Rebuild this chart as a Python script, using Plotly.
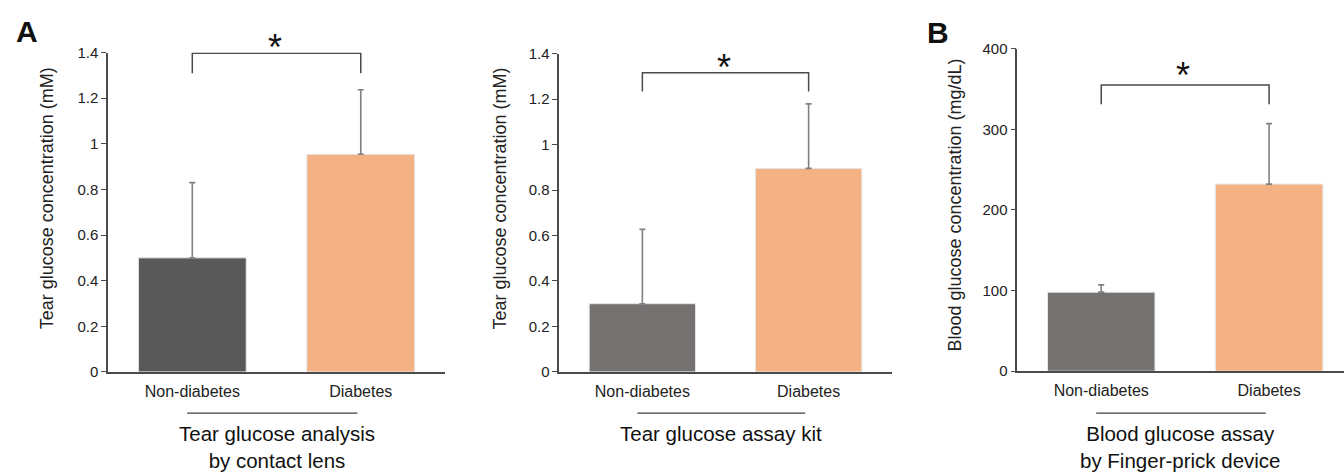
import plotly.graph_objects as go

categories = ["Non-diabetes", "Diabetes"]

# Panel A-1: tear glucose by contact lens (mM)
lens_mean = [0.50, 0.954]
lens_sd = [0.33, 0.283]
# Panel A-2: tear glucose assay kit (mM)
kit_mean = [0.30, 0.895]
kit_sd = [0.327, 0.284]
# Panel B: blood glucose finger-prick (mg/dL)
blood_mean = [98, 232]
blood_sd = [9, 75]

# significance brackets [leg bottom, top]
lens_bracket = [1.31, 1.397]
kit_bracket = [1.233, 1.316]
blood_bracket = [331, 355]

tear_ticks = [0, 0.2, 0.4, 0.6, 0.8, 1, 1.2, 1.4]
blood_ticks = [0, 100, 200, 300, 400]

subtitles = ["Tear glucose analysis<br>by contact lens",
             "Tear glucose assay kit",
             "Blood glucose assay<br>by Finger-prick device"]
ytitles = ["Tear glucose concentration (mM)",
           "Tear glucose concentration (mM)",
           "Blood glucose concentration (mg/dL)"]

ORANGE = "#F4B183"
DARK = "#595959"
GRAY = "#767171"
AXIS = "#4a4a4a"
FONT = "Liberation Sans, Arial, sans-serif"

# page geometry as displayed: paper drawn 457 px tall, 8 px from the top
H, TOP = 457.0, 8.0


def fy(px):
    return 1 - (px - TOP) / H


fig = go.Figure()

panels = [
    ("x", "y", lens_mean, lens_sd, lens_bracket, [DARK, ORANGE]),
    ("x2", "y2", kit_mean, kit_sd, kit_bracket, [GRAY, ORANGE]),
    ("x3", "y3", blood_mean, blood_sd, blood_bracket, [GRAY, ORANGE]),
]

for xa, ya, mean, sd, br, cols in panels:
    fig.add_trace(go.Bar(
        x=categories, y=mean, xaxis=xa, yaxis=ya, width=0.64,
        marker=dict(color=cols, line=dict(color="#e6e6e6", width=1)),
        error_y=dict(type="data", array=sd, arrayminus=[0, 0], symmetric=False,
                     color="#808080", thickness=1.6, width=3),
        showlegend=False, hoverinfo="skip"))
    fig.add_trace(go.Scatter(
        x=[categories[0], categories[0], categories[1], categories[1]],
        y=[br[0], br[1], br[1], br[0]], xaxis=xa, yaxis=ya,
        mode="lines", line=dict(color=AXIS, width=1.5),
        cliponaxis=False, showlegend=False, hoverinfo="skip"))

doms = [(0.0804, 0.3311), (0.4161, 0.6635), (0.7569, 1.0)]
ydoms = [(fy(371.7), fy(51.7)), (fy(371.7), fy(52.7)), (fy(371.0), fy(47.7))]
xranges = [[-0.5, 1.5], [-0.5, 1.5], [-0.5, 1.446]]
yranges = [[0, 1.4], [0, 1.4], [0, 400]]
yticks = [tear_ticks, tear_ticks, blood_ticks]

layout = dict(
    width=1344, height=473, margin=dict(l=0, r=0, t=0, b=0),
    paper_bgcolor="white", plot_bgcolor="white",
    font=dict(family=FONT, color="#222222"),
    bargap=0.36,
)
for i in range(3):
    sx = "" if i == 0 else str(i + 1)
    layout["xaxis" + sx] = dict(
        domain=list(doms[i]), range=xranges[i], anchor="y" + sx,
        type="category", showline=True, linecolor=AXIS, linewidth=1.5,
        ticks="outside", ticklen=4, tickcolor="rgba(0,0,0,0)",
        tickfont=dict(size=16, color="#222222"), showgrid=False, zeroline=False,
        fixedrange=True)
    layout["yaxis" + sx] = dict(
        domain=list(ydoms[i]), range=yranges[i], anchor="x" + sx,
        showline=True, linecolor=AXIS, linewidth=1.5,
        ticks="outside", ticklen=5, tickcolor=AXIS, tickwidth=1.2,
        tickvals=yticks[i], tickfont=dict(size=15, color="#222222"),
        showgrid=False, zeroline=False, fixedrange=True)
fig.update_layout(**layout)

annotations = []
shapes = []
ytitle_x = [46.7, 500, 955]
ytitle_y = [198, 198, 205]
star_y = [46.5, 66.5, 75]
for i in range(3):
    xr = "x" if i == 0 else "x" + str(i + 1)
    # y-axis title
    annotations.append(dict(
        text=ytitles[i], xref="paper", yref="paper",
        x=ytitle_x[i] / 1344, y=fy(ytitle_y[i]), textangle=-90,
        showarrow=False, font=dict(size=18, color="#222222"),
        xanchor="center", yanchor="middle"))
    # asterisk
    annotations.append(dict(
        text="*", xref=xr, yref="paper", x=0.49, y=fy(star_y[i]),
        showarrow=False, font=dict(size=36, color="#111111"),
        xanchor="center", yanchor="middle"))
    # group subtitle
    annotations.append(dict(
        text=subtitles[i], xref=xr, yref="paper", x=0.47 if i else 0.5,
        y=fy(420), showarrow=False, yanchor="top", xanchor="center",
        font=dict(size=20.5, color="#111111")))
    # underline below category labels
    shapes.append(dict(
        type="line", xref=xr, yref="paper", x0=-0.03, x1=0.98,
        y0=fy(413), y1=fy(413),
        line=dict(color="#404040", width=1.2)))

annotations.append(dict(text="<b>A</b>", xref="paper", yref="paper",
                        x=27 / 1344, y=fy(31), showarrow=False,
                        font=dict(size=30, color="#111111"),
                        xanchor="center", yanchor="middle"))
annotations.append(dict(text="<b>B</b>", xref="paper", yref="paper",
                        x=938 / 1344, y=fy(32), showarrow=False,
                        font=dict(size=30, color="#111111"),
                        xanchor="center", yanchor="middle"))

fig.update_layout(annotations=annotations, shapes=shapes)
fig.write_html(
    "out.html",
    config={"displayModeBar": False},
    post_script="document.body.style.margin='0';",
)
